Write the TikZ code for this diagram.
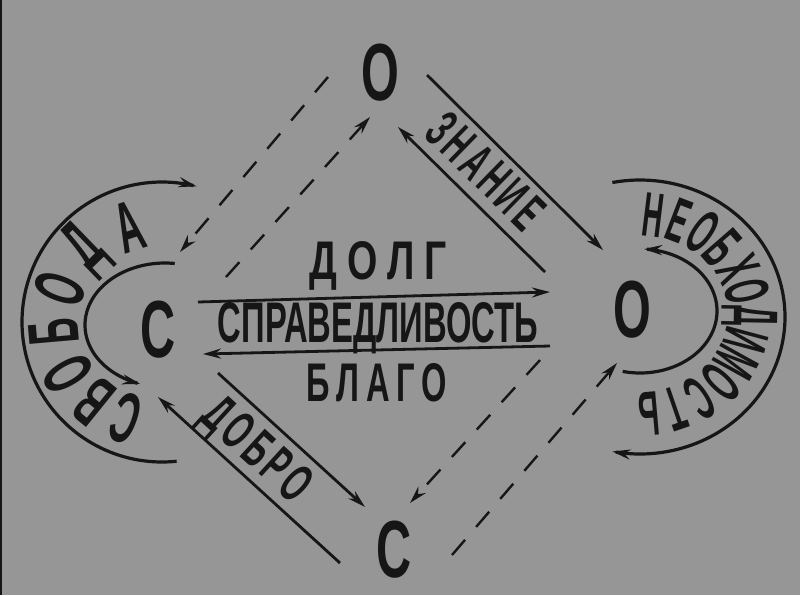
\documentclass[tikz,border=0pt]{standalone}
\usepackage{fontspec}
\setmainfont{Liberation Sans}
\newfontfamily\fbig[FakeStretch=0.6]{Liberation Sans}
\newfontfamily\fleft[FakeStretch=0.5]{Liberation Sans}
\newfontfamily\fright[FakeStretch=0.45]{Liberation Sans}
\usetikzlibrary{arrows.meta}
\definecolor{bgc}{RGB}{150,150,150}
\definecolor{inkc}{RGB}{22,22,22}
\newcommand\fitto[3]{\resizebox{#1}{#2}{#3}}
\tikzset{
  ink/.style={draw=inkc, line width=2.8pt},
  arcline/.style={draw=inkc, line width=3.2pt},
  tipend/.style={-{Stealth[length=18pt,width=10pt,inset=6pt]}},
  tipstart/.style={{Stealth[length=18pt,width=10pt,inset=6pt]}-},
  dashline/.style={draw=inkc, line width=2.4pt, dash pattern=on 20pt off 17pt},
  bigltr/.style={text=inkc, inner sep=0pt, font=\fbig\bfseries\fontsize{81}{81}\selectfont},
  word/.style={text=inkc, inner sep=0pt, font=\bfseries\fontsize{20}{20}\selectfont},
  lring/.style={text=inkc, inner sep=0pt, font=\fleft\bfseries\fontsize{72}{72}\selectfont},
  rring/.style={text=inkc, inner sep=0pt, font=\fright\bfseries\fontsize{63}{63}\selectfont},
}
\begin{document}
\begin{tikzpicture}[x=1pt,y=-1pt]
\fill[bgc] (0,0) rectangle (800,595);
\useasboundingbox (0,0) rectangle (800,595);
\draw[inkc, line width=2pt] (1,0) -- (1,595);

% corner letters
\node[bigltr] (otop) at (380,73) {О};
\node[bigltr] (oright) at (632,310) {О};
\node[bigltr] (cleft) at (158,330) {С};
\node[bigltr] (cbot) at (394,550) {С};

% central words
\node[word] (dolg) at (378,266) {\fitto{137pt}{38pt}{Д\hspace{0.25em}О\hspace{0.25em}Л\hspace{0.25em}Г}};
\node[word] (sprav) at (378,328) {\fitto{320pt}{40pt}{СПРАВЕДЛИВОСТЬ}};
\node[word] (blago) at (377,383) {\fitto{140pt}{38pt}{Б\hspace{0.2em}Л\hspace{0.2em}А\hspace{0.2em}Г\hspace{0.2em}О}};

% diagonal words
\node[word, rotate=-44.3] (znanie) at (486,171) {\fitto{140pt}{38pt}{З\hspace{0.15em}Н\hspace{0.15em}А\hspace{0.15em}Н\hspace{0.15em}И\hspace{0.15em}Е}};
\node[word, rotate=-42.4] (dobro) at (255,452) {\fitto{127pt}{38pt}{Д\hspace{0.15em}О\hspace{0.15em}Б\hspace{0.15em}Р\hspace{0.15em}О}};

% connector end points
\coordinate (a1) at (427,75);  \coordinate (a2) at (603,250);
\coordinate (b1) at (545,272); \coordinate (b2) at (398,127);
\coordinate (c1) at (218,373); \coordinate (c2) at (365,507);
\coordinate (d1) at (340,563); \coordinate (d2) at (158,397);
\coordinate (e1) at (198,302); \coordinate (e2) at (550,292);
\coordinate (f1) at (550,346); \coordinate (f2) at (203,354);
\coordinate (g1) at (328,77);  \coordinate (g2) at (180,252);
\coordinate (h1) at (226,277); \coordinate (h2) at (370,117);
\coordinate (i1) at (540,360); \coordinate (i2) at (410,503);
\coordinate (j1) at (452,555); \coordinate (j2) at (617,363);

% solid bands
\draw[ink, tipend] (a1) -- (a2);
\draw[ink, tipend] (b1) -- (b2);
\draw[ink, tipend] (c1) -- (c2);
\draw[ink, tipend] (d1) -- (d2);
\draw[ink, tipend] (e1) -- (e2);
\draw[ink, tipend] (f1) -- (f2);

% dashed lines
\draw[dashline, tipend] (g1) -- (g2);
\draw[dashline, tipend] (h1) -- (h2);
\draw[dashline, tipend] (i1) -- (i2);
\draw[dashline, tipend] (j1) -- (j2);

% left rings
\draw[arcline, tipend] plot[domain=84:284.4, samples=90, smooth, variable=\t] ({162+140*cos(\t)},{322+140*sin(\t)});
\draw[arcline, tipstart] plot[domain=108:277, samples=80, smooth, variable=\t] ({165+80*cos(\t)},{325+62*sin(\t)});
% right rings
\draw[arcline, tipend] plot[domain=-101:101, samples=90, smooth, variable=\t] ({640+145*cos(\t)},{317+137*sin(\t)});
\draw[arcline, tipstart] plot[domain=-87:103, samples=80, smooth, variable=\t] ({640+77*cos(\t)},{311+62*sin(\t)});

% ring texts
\foreach \ch/\ang [count=\i] in {С/110, В/129, О/150, Б/175, О/200, Д/226, А/252} {
  \node[lring, rotate={-90-\ang}] (sv\i) at ({163+110*cos(\ang)},{323+101*sin(\ang)}) {\ch};
}
\foreach \ch/\ang [count=\i] in {Н/-83, Е/-69, О/-55, Б/-41, Х/-27, О/-13, Д/1, И/15, М/29, О/43, С/57, Т/71, Ь/85} {
  \node[rring, rotate={-90-\ang}] (ne\i) at ({640+110*cos(\ang)},{314+100*sin(\ang)}) {\ch};
}
\end{tikzpicture}
\end{document}
